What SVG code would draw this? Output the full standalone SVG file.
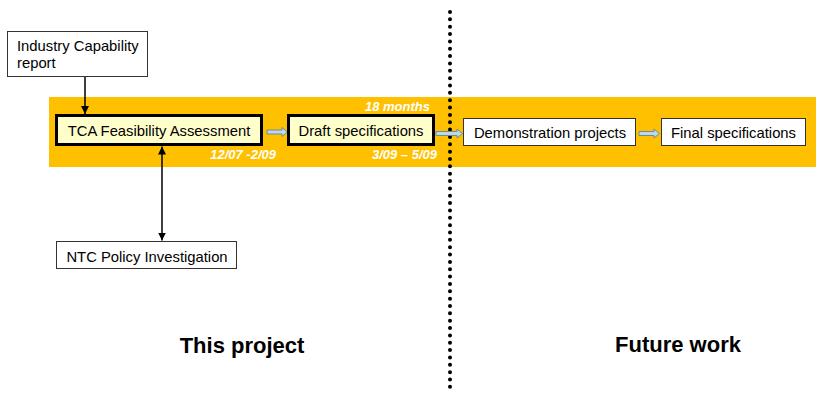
<svg xmlns="http://www.w3.org/2000/svg" width="818" height="393" viewBox="0 0 818 393">
<defs>
<style>
.t{font-family:"Liberation Sans",Arial,sans-serif;font-size:14.8px;fill:#000}
.thick{fill:#FFFFCC;stroke:#000;stroke-width:3}
.thin{fill:#fff;stroke:#333;stroke-width:1}
.date{font-family:"Liberation Sans",Arial,sans-serif;font-size:13px;font-weight:bold;font-style:italic;fill:#fff}
.big{font-family:"Liberation Sans",Arial,sans-serif;font-size:22px;font-weight:bold;fill:#000}
.blk{fill:#BCD8EA;stroke:#6E8A96;stroke-width:1}
.ln{stroke:#000;stroke-width:1.5;fill:none}
</style>
<marker id="ah" viewBox="0 0 10 10" refX="10" refY="5" markerWidth="8" markerHeight="8" markerUnits="userSpaceOnUse" orient="auto-start-reverse">
<path d="M0,0 L10,5 L0,10 Z" fill="#000"/>
</marker>
</defs>
<rect width="818" height="393" fill="#fff"/>
<rect x="49" y="97" width="767" height="70" fill="#FFC000"/>
<line x1="450" y1="12" x2="450" y2="393" stroke="#000" stroke-width="4" stroke-linecap="round" stroke-dasharray="0 7.35"/>
<g id="connectors">
<line class="ln" x1="85" y1="77" x2="85" y2="114" marker-end="url(#ah)"/>
<line class="ln" x1="162" y1="146.5" x2="162" y2="240.5" marker-start="url(#ah)" marker-end="url(#ah)"/>
<path class="blk" d="M267,130 L282,130 L282,127.5 L287.5,132 L282,136.5 L282,134 L267,134 Z"/>
<path class="blk" d="M436,131.5 L457,131.5 L457,129 L462.5,133.5 L457,138 L457,135.5 L436,135.5 Z"/>
<path class="blk" d="M639,131.5 L654,131.5 L654,129 L659.5,133.5 L654,138 L654,135.5 L639,135.5 Z"/>
</g>
<g id="industry">
<rect class="thin" x="7.5" y="31.5" width="140" height="45"/>
<text class="t" x="17" y="51">Industry Capability</text>
<text class="t" x="17" y="68">report</text>
</g>
<g id="tca">
<rect class="thick" x="56.5" y="115.5" width="205" height="29"/>
<text class="t" x="159" y="135.5" text-anchor="middle">TCA Feasibility Assessment</text>
</g>
<g id="draft">
<rect class="thick" x="288.5" y="115.5" width="145" height="29"/>
<text class="t" x="361" y="135.5" text-anchor="middle">Draft specifications</text>
</g>
<g id="demo">
<rect class="thin" x="463.5" y="118.5" width="172" height="27"/>
<text class="t" x="550" y="137.5" text-anchor="middle">Demonstration projects</text>
</g>
<g id="final">
<rect class="thin" x="661.5" y="118.5" width="144" height="27"/>
<text class="t" x="733.5" y="137.5" text-anchor="middle">Final specifications</text>
</g>
<g id="ntc">
<rect class="thin" x="56.5" y="241.5" width="180" height="27"/>
<text class="t" x="147" y="262" text-anchor="middle">NTC Policy Investigation</text>
</g>
<text class="date" x="430" y="110.5" text-anchor="end">18 months</text>
<text class="date" x="276" y="159" text-anchor="end">12/07 -2/09</text>
<text class="date" x="437" y="159" text-anchor="end">3/09 – 5/09</text>
<text class="big" x="242" y="353" text-anchor="middle">This project</text>
<text class="big" x="678" y="352" text-anchor="middle">Future work</text>
</svg>
